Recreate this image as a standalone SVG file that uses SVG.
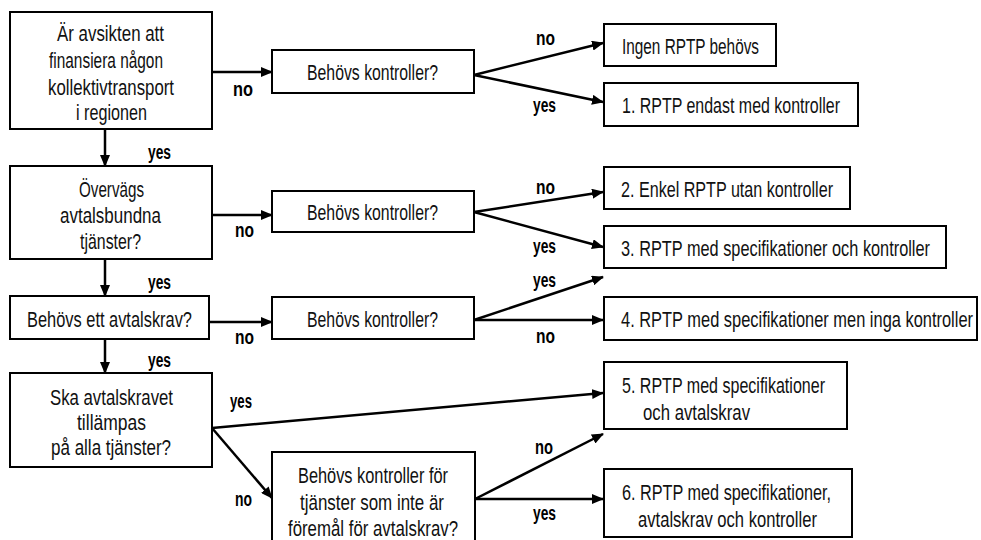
<svg xmlns="http://www.w3.org/2000/svg" width="981" height="540" viewBox="0 0 981 540">
  <style>
    .box { fill: #ffffff; stroke: #000000; stroke-width: 2; }
    .txt { font-family: "Liberation Sans", Arial, sans-serif; font-size: 21.5px; fill: #111111; }
    .lbl { font-family: "Liberation Sans", Arial, sans-serif; font-size: 19.5px; font-weight: bold; fill: #000000; }
    .edge { stroke: #000000; stroke-width: 2.5; fill: none; marker-end: url(#head); }
  </style>
  <defs>
    <marker id="head" markerUnits="userSpaceOnUse" markerWidth="12" markerHeight="10" refX="11" refY="5" orient="auto">
      <path d="M0,0 L12,5 L0,10 z" fill="#000000"/>
    </marker>
  </defs>
  <rect width="981" height="540" fill="#ffffff"/>

  <!-- connectors -->
  <g id="connectors">
    <line class="edge" x1="212" y1="72" x2="272" y2="72"/>
    <line class="edge" x1="105" y1="129" x2="105" y2="166"/>
    <line class="edge" x1="474" y1="75" x2="603" y2="43"/>
    <line class="edge" x1="474" y1="75" x2="603" y2="102"/>

    <line class="edge" x1="212" y1="215" x2="272" y2="215"/>
    <line class="edge" x1="105" y1="259" x2="105" y2="296"/>
    <line class="edge" x1="474" y1="212" x2="603" y2="192"/>
    <line class="edge" x1="474" y1="212" x2="603" y2="247"/>

    <line class="edge" x1="209" y1="322" x2="272" y2="322"/>
    <line class="edge" x1="105" y1="339" x2="105" y2="373"/>
    <line class="edge" x1="474" y1="320" x2="603" y2="277"/>
    <line class="edge" x1="474" y1="320" x2="603" y2="320"/>

    <line class="edge" x1="212" y1="428" x2="603" y2="393"/>
    <line class="edge" x1="212" y1="428" x2="272" y2="498"/>
    <line class="edge" x1="475" y1="499" x2="603" y2="434"/>
    <line class="edge" x1="475" y1="499" x2="603" y2="499"/>
  </g>

  <!-- branch labels -->
  <g id="labels">
    <text class="lbl" x="233" y="96" textLength="20" lengthAdjust="spacingAndGlyphs">no</text>
    <text class="lbl" x="148" y="159" textLength="23" lengthAdjust="spacingAndGlyphs">yes</text>
    <text class="lbl" x="536" y="45" textLength="19" lengthAdjust="spacingAndGlyphs">no</text>
    <text class="lbl" x="533" y="112" textLength="23" lengthAdjust="spacingAndGlyphs">yes</text>

    <text class="lbl" x="235" y="237" textLength="19" lengthAdjust="spacingAndGlyphs">no</text>
    <text class="lbl" x="148" y="289" textLength="23" lengthAdjust="spacingAndGlyphs">yes</text>
    <text class="lbl" x="536" y="194" textLength="19" lengthAdjust="spacingAndGlyphs">no</text>
    <text class="lbl" x="533" y="253" textLength="23" lengthAdjust="spacingAndGlyphs">yes</text>

    <text class="lbl" x="235" y="344" textLength="19" lengthAdjust="spacingAndGlyphs">no</text>
    <text class="lbl" x="148" y="367" textLength="23" lengthAdjust="spacingAndGlyphs">yes</text>
    <text class="lbl" x="533" y="287" textLength="23" lengthAdjust="spacingAndGlyphs">yes</text>
    <text class="lbl" x="536" y="343" textLength="19" lengthAdjust="spacingAndGlyphs">no</text>

    <text class="lbl" x="230" y="408" textLength="22" lengthAdjust="spacingAndGlyphs">yes</text>
    <text class="lbl" x="235" y="506" textLength="17" lengthAdjust="spacingAndGlyphs">no</text>
    <text class="lbl" x="535" y="454" textLength="18" lengthAdjust="spacingAndGlyphs">no</text>
    <text class="lbl" x="533" y="520" textLength="23" lengthAdjust="spacingAndGlyphs">yes</text>
  </g>

  <!-- decision column -->
  <g id="q-finansiera">
    <rect class="box" x="10" y="12" width="202" height="117"/>
    <text class="txt" x="57" y="41" textLength="107" lengthAdjust="spacingAndGlyphs">Är avsikten att</text>
    <text class="txt" x="49" y="68" textLength="114" lengthAdjust="spacingAndGlyphs">finansiera någon</text>
    <text class="txt" x="48" y="95" textLength="126" lengthAdjust="spacingAndGlyphs">kollektivtransport</text>
    <text class="txt" x="76" y="120" textLength="71" lengthAdjust="spacingAndGlyphs">i regionen</text>
  </g>
  <g id="q-avtalsbundna">
    <rect class="box" x="10" y="166" width="202" height="93"/>
    <text class="txt" x="79" y="197" textLength="65" lengthAdjust="spacingAndGlyphs">Övervägs</text>
    <text class="txt" x="60" y="223" textLength="101" lengthAdjust="spacingAndGlyphs">avtalsbundna</text>
    <text class="txt" x="80" y="249" textLength="61" lengthAdjust="spacingAndGlyphs">tjänster?</text>
  </g>
  <g id="q-avtalskrav">
    <rect class="box" x="10" y="296" width="199" height="43"/>
    <text class="txt" x="27" y="327" textLength="165" lengthAdjust="spacingAndGlyphs">Behövs ett avtalskrav?</text>
  </g>
  <g id="q-alla">
    <rect class="box" x="10" y="373" width="202" height="94"/>
    <text class="txt" x="50" y="405" textLength="123" lengthAdjust="spacingAndGlyphs">Ska avtalskravet</text>
    <text class="txt" x="77" y="430" textLength="69" lengthAdjust="spacingAndGlyphs">tillämpas</text>
    <text class="txt" x="51" y="455" textLength="120" lengthAdjust="spacingAndGlyphs">på alla tjänster?</text>
  </g>

  <!-- control questions -->
  <g id="k1">
    <rect class="box" x="272" y="50" width="202" height="43"/>
    <text class="txt" x="307" y="80" textLength="131" lengthAdjust="spacingAndGlyphs">Behövs kontroller?</text>
  </g>
  <g id="k2">
    <rect class="box" x="272" y="191" width="202" height="41"/>
    <text class="txt" x="307" y="220" textLength="131" lengthAdjust="spacingAndGlyphs">Behövs kontroller?</text>
  </g>
  <g id="k3">
    <rect class="box" x="272" y="297" width="202" height="42"/>
    <text class="txt" x="307" y="327" textLength="131" lengthAdjust="spacingAndGlyphs">Behövs kontroller?</text>
  </g>
  <g id="k4">
    <rect class="box" x="272" y="452" width="203" height="95"/>
    <text class="txt" x="298" y="483" textLength="150" lengthAdjust="spacingAndGlyphs">Behövs kontroller för</text>
    <text class="txt" x="300" y="510" textLength="144" lengthAdjust="spacingAndGlyphs">tjänster som inte är</text>
    <text class="txt" x="288" y="536" textLength="170" lengthAdjust="spacingAndGlyphs">föremål för avtalskrav?</text>
  </g>

  <!-- outcomes -->
  <g id="r0">
    <rect class="box" x="604" y="24" width="172" height="42"/>
    <text class="txt" x="622" y="54" textLength="137" lengthAdjust="spacingAndGlyphs">Ingen RPTP behövs</text>
  </g>
  <g id="r1">
    <rect class="box" x="604" y="83" width="254" height="43"/>
    <text class="txt" x="622" y="113" textLength="218" lengthAdjust="spacingAndGlyphs">1. RPTP endast med kontroller</text>
  </g>
  <g id="r2">
    <rect class="box" x="604" y="167" width="246" height="42"/>
    <text class="txt" x="621" y="197" textLength="212" lengthAdjust="spacingAndGlyphs">2. Enkel RPTP utan kontroller</text>
  </g>
  <g id="r3">
    <rect class="box" x="604" y="226" width="342" height="42"/>
    <text class="txt" x="621" y="256" textLength="309" lengthAdjust="spacingAndGlyphs">3. RPTP med specifikationer och kontroller</text>
  </g>
  <g id="r4">
    <rect class="box" x="604" y="297" width="373" height="43"/>
    <text class="txt" x="621" y="327" textLength="352" lengthAdjust="spacingAndGlyphs">4. RPTP med specifikationer men inga kontroller</text>
  </g>
  <g id="r5">
    <rect class="box" x="604" y="362" width="243" height="67"/>
    <text class="txt" x="622" y="393" textLength="203" lengthAdjust="spacingAndGlyphs">5. RPTP med specifikationer</text>
    <text class="txt" x="643" y="420" textLength="107" lengthAdjust="spacingAndGlyphs">och avtalskrav</text>
  </g>
  <g id="r6">
    <rect class="box" x="604" y="469" width="248" height="68"/>
    <text class="txt" x="622" y="500" textLength="209" lengthAdjust="spacingAndGlyphs">6. RPTP med specifikationer,</text>
    <text class="txt" x="638" y="527" textLength="179" lengthAdjust="spacingAndGlyphs">avtalskrav och kontroller</text>
  </g>
</svg>
